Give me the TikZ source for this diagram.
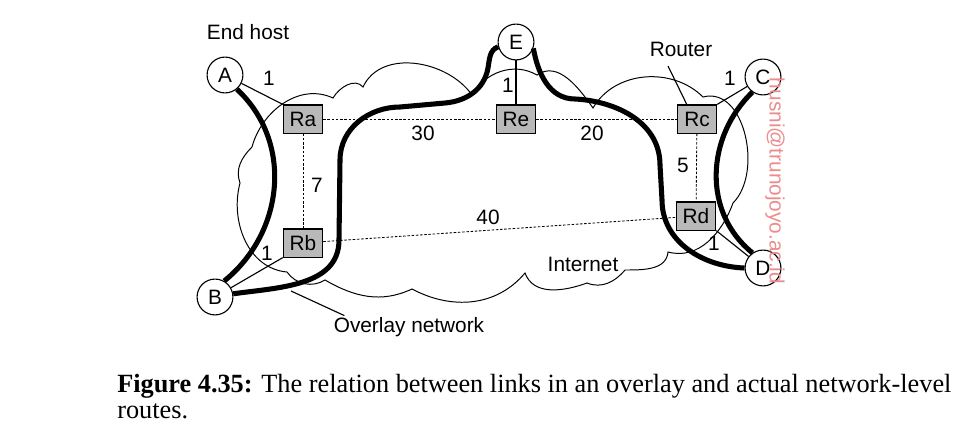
\documentclass[tikz,border=0pt]{standalone}
\usepackage{fontspec}
\setmainfont{Liberation Serif}
\setsansfont{Liberation Sans}
\usepackage{xcolor}
\usepackage{tikz}
\usetikzlibrary{positioning}
\definecolor{boxgray}{RGB}{185, 185, 185}
\definecolor{wmpink}{RGB}{236, 140, 140}

\begin{document}
\begin{tikzpicture}[x=0.025cm, y=0.025cm,
  hostnode/.style = {circle, draw, fill=white, line width=0.8pt, minimum size=25.5pt,
                     inner sep=0pt, font=\sffamily\fontsize{14.8}{17}\selectfont},
  rtrbox/.style   = {rectangle, draw, fill=boxgray, line width=0.8pt, minimum width=28pt,
                     minimum height=20pt, inner sep=0pt, font=\sffamily\fontsize{14.8}{17}\selectfont},
  physlink/.style = {line width=0.8pt},
  netpath/.style  = {line width=0.6pt, dash pattern=on 1.8pt off 1.2pt},
  ovlpath/.style  = {line width=3.6pt},
  cloudline/.style = {line width=0.7pt},
  lbl/.style      = {font=\sffamily\fontsize{14.8}{17}\selectfont, inner sep=1pt},
  wmark/.style    = {font=\sffamily\fontsize{14.8}{17}\selectfont, color=wmpink, rotate=-90},
  capt/.style     = {font=\fontsize{18.7}{22}\selectfont, anchor=base west, inner sep=0pt}
]
  \useasboundingbox (0,0) rectangle (980,-442);

  % ---- Internet cloud ----
  \draw[cloudline] (252,-147) to[out=75,in=155] (333,-98)
    to[out=60,in=130] (363,-87)
    to[out=65,in=125] (472,-95)
    to[out=60,in=150] (537,-75)
    to[out=35,in=125] (593,-108)
    to[out=60,in=135] (703,-97)
    to[out=15,in=45] (733,-203)
    to[out=-110,in=-15] (668,-252)
    to[out=-95,in=0] (625,-270)
    to[out=-130,in=-22] (587,-283)
    to[out=-160,in=-70] (525,-273)
    to[out=-130,in=-28] (412,-289)
    to[out=-155,in=-30] (325,-280)
    to[out=-148,in=-55] (287,-272)
    to[out=175,in=-105] (240,-183)
    to[out=110,in=-135] (252,-147) -- cycle;

  % ---- End hosts ----
  \node[hostnode] at (225,-75)  (A) {A};
  \node[hostnode] at (215,-297) (B) {B};
  \node[hostnode] at (763,-77)  (C) {C};
  \node[hostnode] at (763,-268) (D) {D};
  \node[hostnode] at (516,-42)  (E) {E};

  % ---- Routers ----
  \node[rtrbox] at (303,-119) (Ra) {Ra};
  \node[rtrbox] at (303,-243) (Rb) {Rb};
  \node[rtrbox] at (516,-119) (Re) {Re};
  \node[rtrbox] at (697,-119) (Rc) {Rc};
  \node[rtrbox] at (696,-216) (Rd) {Rd};

  % ---- Labels ----
  \node[lbl] at (248,-32)  (endhost) {End host};
  \node[lbl] at (681,-49)  (rtrlbl)  {Router};
  \node[lbl] at (409,-327) (ovllbl)  {Overlay network};
  \node[lbl] at (583,-264) (inetlbl) {Internet};
  \coordinate (rtrtip) at (668,-66);
  \coordinate (ovltip) at (291,-291);

  % ---- Link weights ----
  \node[lbl] at (269,-78)  (wA)  {1};
  \node[lbl] at (508,-85)  (wE)  {1};
  \node[lbl] at (730,-78)  (wC)  {1};
  \node[lbl] at (267,-253) (wB)  {1};
  \node[lbl] at (714,-243) (wD)  {1};
  \node[lbl] at (423,-133) (wae) {30};
  \node[lbl] at (592,-133) (wec) {20};
  \node[lbl] at (317,-185) (wab) {7};
  \node[lbl] at (683,-165) (wcd) {5};
  \node[lbl] at (488,-217) (wbd) {40};

  % ---- Network-level routes ----
  \draw[netpath] (Ra) -- (Re);
  \draw[netpath] (Re) -- (Rc);
  \draw[netpath] (Ra) -- (Rb);
  \draw[netpath] (Rc) -- (Rd);
  \draw[netpath] (Rb) -- (Rd);

  % ---- Access links ----
  \draw[physlink] (A) -- (Ra.north west);
  \draw[physlink] (E) -- (Re);
  \draw[physlink] (C) -- (Rc.north east);
  \draw[physlink] (B) -- (Rb.south west);
  \draw[physlink] (D) -- (Rd.south east);

  % ---- Overlay links ----
  \draw[ovlpath] (A.-50) to[out=-43,in=39,looseness=1.03] (B.60);
  \draw[ovlpath] (C.-125) to[out=-136,in=141,looseness=1.03] (D.125);
  \draw[ovlpath] (B.10) to[out=8,in=-90] (339,-240) -- (340,-160)
    to[out=90,in=180] (400,-107) -- (445,-103)
    to[out=5,in=-100] (488,-68) to[out=80,in=-160] (E.195);
  \draw[ovlpath] (E.-20) to[out=-80,in=180] (575,-99)
    to[out=-3,in=90] (660,-165) -- (662,-200)
    to[out=-90,in=178] (D.180);

  % ---- Pointers ----
  \draw[physlink] (rtrtip) -- (Rc.125);
  \draw[physlink] (ovllbl.170) -- (ovltip);

  % ---- Watermark ----
  \node[wmark] at (775,-181) (wmk) {husni@trunojoyo.ac.id};

  % ---- Caption ----
  \node[capt] at (117,-392) (cap1) {\textbf{Figure 4.35:} The relation between links in an overlay and actual network-level};
  \node[capt] at (117,-418) (cap2) {routes.};
\end{tikzpicture}
\end{document}
